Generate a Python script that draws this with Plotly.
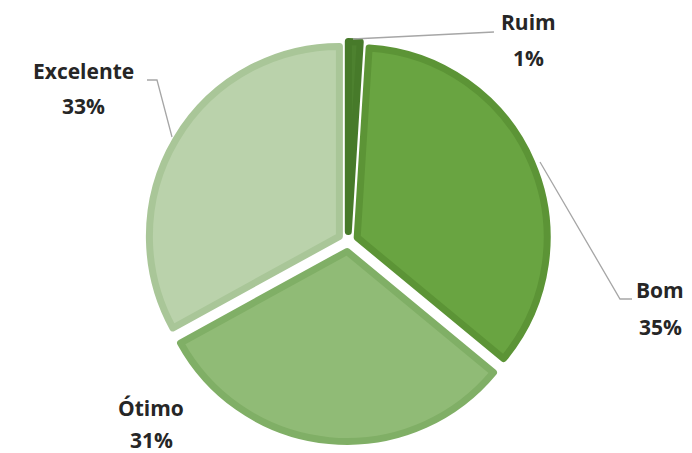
import plotly.graph_objects as go

W, H = 692, 453

# Data
categories = ["Ruim", "Bom", "Ótimo", "Excelente"]
values = [1, 35, 31, 33]
fill_colors = ["#4d812f", "#69a441", "#90bb76", "#bad2ab"]
line_colors = ["#477a2a", "#5c9436", "#80af66", "#a9c698"]

# label anchor positions in pixels (x centre, name line y, percent line y)
label_pos = {
    "Ruim": (528, 22, 58),
    "Bom": (660, 290, 327),
    "Ótimo": (151, 408, 440),
    "Excelente": (83, 71, 106),
}

def px(x):
    return x / W

def py(y):
    return 1 - y / H

cx, cy, r = 348, 241.5, 190
pull_px = 10
pull = pull_px / r
half = r * (1 + pull)

fig = go.Figure(go.Pie(
    labels=categories,
    values=values,
    sort=False,
    direction="clockwise",
    rotation=0,
    pull=[pull] * len(values),
    marker=dict(colors=fill_colors, line=dict(color=line_colors, width=7)),
    textinfo="none",
    hoverinfo="label+percent",
    showlegend=False,
    domain=dict(x=[px(cx - half), px(cx + half)], y=[py(cy + half), py(cy - half)]),
))

total = sum(values)
annotations = []
font = dict(family="'Open Sans', Lato, sans-serif", size=21, color="#262626")
for cat, v in zip(categories, values):
    x, y1, y2 = label_pos[cat]
    annotations.append(dict(x=px(x), y=py(y1), xref="paper", yref="paper",
                            text=f"<b>{cat}</b>", showarrow=False, font=font,
                            xanchor="center", yanchor="middle"))
    annotations.append(dict(x=px(x), y=py(y2), xref="paper", yref="paper",
                            text=f"<b>{round(v / total * 100)}%</b>", showarrow=False, font=font,
                            xanchor="center", yanchor="middle"))

# leader lines (pixel paths)
leaders = [
    [(353, 39), (494, 32)],
    [(147, 80), (157, 80), (172, 137)],
    [(540, 162), (620, 299), (632, 299)],
]
shapes = []
for pts in leaders:
    path = "M " + " L ".join(f"{px(x):.5f},{py(y):.5f}" for x, y in pts)
    shapes.append(dict(type="path", path=path, xref="paper", yref="paper",
                       line=dict(color="#a6a6a6", width=1.3)))

fig.update_layout(
    width=W, height=H,
    margin=dict(l=0, r=0, t=0, b=0),
    paper_bgcolor="white",
    plot_bgcolor="white",
    annotations=annotations,
    shapes=shapes,
)

fig.write_html(
    "out.html",
    config={"displayModeBar": False},
    post_script="document.body.style.margin='0';document.body.style.overflow='hidden';",
)
